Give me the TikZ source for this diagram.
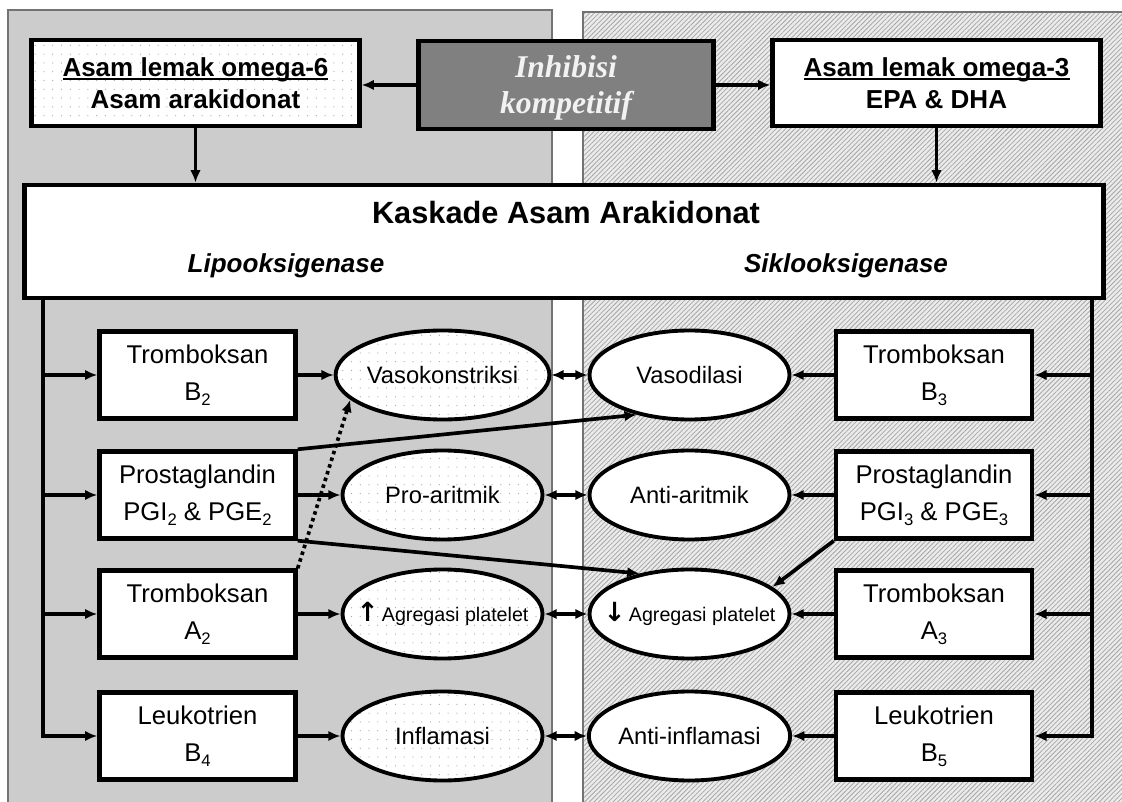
\documentclass[tikz,border=0pt]{standalone}
\usepackage{fontspec}
\setmainfont{Liberation Sans}
\newfontfamily\timesfont{Liberation Serif}
\newfontfamily\arrowfont{DejaVu Sans}
\usetikzlibrary{shapes.geometric,arrows.meta,patterns.meta}
\newcommand{\subidx}[1]{\raisebox{-0.35ex}{\fontsize{9.5}{9.5}\selectfont #1}}
\newcommand{\ulin}[1]{\setbox0\hbox{#1}\rlap{\rule[-2.2pt]{\wd0}{1.1pt}}\box0}

\begin{document}
\begin{tikzpicture}[
	box/.style={draw, line width=2.5pt, fill=white, minimum width=3.92cm, minimum height=1.74cm, inner sep=1pt, align=center, font=\fontsize{14.6}{21}\selectfont},
	topbox/.style={draw, line width=2.7pt, minimum width=6.55cm, minimum height=1.72cm, inner sep=1pt, align=center, font=\fontsize{14.8}{18}\selectfont\bfseries},
	effect/.style={ellipse, draw, line width=2.2pt, minimum width=4.0cm, minimum height=1.78cm, inner sep=0pt, font=\fontsize{13.5}{16}\selectfont},
	dotty/.style={preaction={fill=white}, pattern={Dots[distance=5pt, radius=0.35pt]}, pattern color=black!35},
	arr/.style={line width=2.1pt, -{Latex[length=7pt, width=6pt]}},
	darr/.style={line width=2.1pt, {Latex[length=7pt, width=6pt]}-{Latex[length=7pt, width=6pt]}},
	trunk/.style={line width=2.1pt, line cap=rect}
	]
	\useasboundingbox (0,0) rectangle (22.44,16.02);
	%--- latar kiri dan kanan
	\filldraw[draw=black!55, line width=0.8pt, fill=black!20] (0.16,-0.5) rectangle (11.04,15.82);
	\fill[black!8] (11.66,-0.5) rectangle (22.9,15.78);
	\draw[draw=black!55, line width=0.8pt, pattern={Lines[angle=45, distance=1.9pt, line width=0.45pt]}, pattern color=black!35] (11.66,-0.5) rectangle (22.9,15.78);
	
	%--- baris atas
	\node[topbox, dotty] (om6) at (3.91,14.36) {\ulin{Asam lemak omega-6}\\Asam arakidonat};
	\node[topbox, fill=black!50, minimum width=5.9cm, minimum height=1.76cm, text depth=0pt, text=white!95!black, font=\fontsize{18}{20.5}\selectfont\timesfont\bfseries\itshape] (inh) at (11.32,14.32) {Inhibisi\\kompetitif};
	\node[topbox, fill=white] (om3) at (18.73,14.36) {\ulin{Asam lemak omega-3}\\EPA \& DHA};
	
	%--- kaskade
	\node[draw, line width=2.8pt, fill=white, minimum width=21.58cm, minimum height=2.26cm] (kas) at (11.28,11.19) {};
	\node[font=\fontsize{17.5}{20}\selectfont\bfseries] (kasT) at (11.32,11.76) {Kaskade Asam Arakidonat};
	\node[font=\fontsize{14.8}{17}\selectfont\bfseries\itshape] (lipo) at (5.72,10.70) {Lipooksigenase};
	\node[font=\fontsize{14.8}{17}\selectfont\bfseries\itshape] (siklo) at (16.92,10.70) {Siklooksigenase};
	
	%--- kolom kiri
	\node[box] (tbB) at (3.95,8.52) {Tromboksan\\B\subidx{2}};
	\node[box] (pgL) at (3.95,6.12) {Prostaglandin\\PGI\subidx{2} \& PGE\subidx{2}};
	\node[box] (tbA) at (3.95,3.74) {Tromboksan\\A\subidx{2}};
	\node[box] (ltL) at (3.95,1.30) {Leukotrien\\B\subidx{4}};
	
	\node[effect, dotty] (vk) at (8.85,8.52) {Vasokonstriksi};
	\node[effect, dotty] (pro) at (8.85,6.12) {Pro-aritmik};
	\node[effect, dotty, font=\fontsize{11.2}{13}\selectfont] (agL) at (8.85,3.74) {\makebox[2.2cm]{{\arrowfont\fontsize{15}{15}\selectfont\bfseries ↑}\,Agregasi platelet}};
	\node[effect, dotty] (inf) at (8.85,1.30) {Inflamasi};
	
	%--- kolom kanan
	\node[box] (tbB3) at (18.68,8.52) {Tromboksan\\B\subidx{3}};
	\node[box] (pgR) at (18.68,6.12) {Prostaglandin\\PGI\subidx{3} \& PGE\subidx{3}};
	\node[box] (tbA3) at (18.68,3.74) {Tromboksan\\A\subidx{3}};
	\node[box] (ltR) at (18.68,1.30) {Leukotrien\\B\subidx{5}};
	
	\node[effect, fill=white] (vdil) at (13.79,8.52) {Vasodilasi};
	\node[effect, fill=white] (anti) at (13.79,6.12) {Anti-aritmik};
	\node[effect, fill=white, font=\fontsize{11.2}{13}\selectfont] (agR) at (13.79,3.74) {\makebox[2.2cm]{{\arrowfont\fontsize{15}{15}\selectfont\bfseries ↓}\,Agregasi platelet}};
	\node[effect, fill=white] (ainf) at (13.79,1.30) {Anti-inflamasi};
	
	%--- panah atas
	\draw[arr] (inh.west) -- (inh.west -| om6.east);
	\draw[arr] (inh.east) -- (inh.east -| om3.west);
	\draw[arr] (om6.south) -- (om6.south |- kas.north);
	\draw[arr] (om3.south) -- (om3.south |- kas.north);
	
	%--- cabang
	\coordinate (trL) at (0.86,1.30);
	\coordinate (trR) at (21.84,1.30);
	\draw[trunk] (trL |- kas.south) -- (trL);
	\draw[trunk] (trR |- kas.south) -- (trR);
	\foreach \b in {tbB,pgL,tbA,ltL} \draw[arr] (trL |- \b.west) -- (\b.west);
	\foreach \b in {tbB3,pgR,tbA3,ltR} \draw[arr] (trR |- \b.east) -- (\b.east);
	
	\foreach \a/\e in {tbB/vk, pgL/pro, tbA/agL, ltL/inf} \draw[arr] (\a.east) -- (\e.west);
	\foreach \a/\e in {tbB3/vdil, pgR/anti, tbA3/agR, ltR/ainf} \draw[arr] (\a.west) -- (\e.east);
	\foreach \a/\e in {vk/vdil, pro/anti, agL/agR, inf/ainf} \draw[darr] (\a.east) -- (\e.west);
	
	%--- silang
	\draw[arr] (pgL.north east) -- (vdil.217);
	\draw[arr] (pgL.south east) -- (agR.141);
	\draw[arr] (pgR.south west) -- (agR.18);
	\draw[arr, dash pattern=on 2pt off 2pt] (tbA.north east) -- (vk.195);
\end{tikzpicture}
\end{document}
